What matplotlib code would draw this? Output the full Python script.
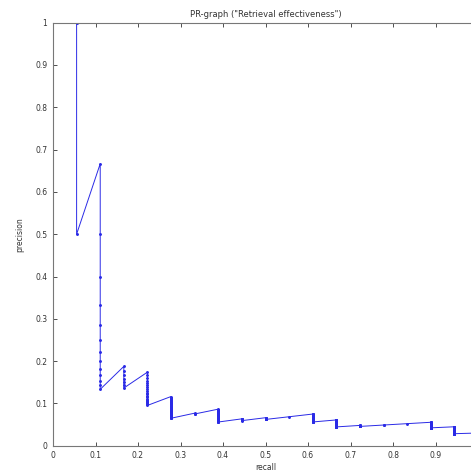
import matplotlib
matplotlib.use('Agg')
import matplotlib.pyplot as plt

# Ranks (in the retrieved list) of the 18 relevant documents
relevant_ranks = [1, 3, 16, 23, 43, 78, 81, 126, 136, 146, 147, 197,
                  271, 286, 288, 289, 380, 600]
n_relevant = 18

x_ticks = [0, 0.1, 0.2, 0.3, 0.4, 0.5, 0.6, 0.7, 0.8, 0.9, 1]
# the "1" label lies past the cropped right edge in the original
x_tick_labels = ['0', '0.1', '0.2', '0.3', '0.4', '0.5', '0.6', '0.7', '0.8', '0.9', '']
y_ticks = [0, 0.1, 0.2, 0.3, 0.4, 0.5, 0.6, 0.7, 0.8, 0.9, 1]
y_tick_labels = ['0', '0.1', '0.2', '0.3', '0.4', '0.5', '0.6', '0.7', '0.8', '0.9', '1']

# recall / precision after each retrieved document
recall = []
precision = []
found = 0
for rank in range(1, relevant_ranks[-1] + 1):
    if rank in relevant_ranks:
        found += 1
    recall.append(found / n_relevant)
    precision.append(found / rank)

fig = plt.figure(figsize=(4.71, 4.75), dpi=100)
# axes run past the right edge of the picture, like the cropped original
ax = fig.add_axes([53 / 471, 29.3 / 475, 425 / 471, 423 / 475])

ax.plot(recall, precision, color='#2a2ae6', linewidth=0.7,
        marker='.', markersize=2.2)

ax.set_xlim(0, 1)
ax.set_ylim(0, 1)
ax.set_xticks(x_ticks)
ax.set_xticklabels(x_tick_labels)
ax.set_yticks(y_ticks)
ax.set_yticklabels(y_tick_labels)
ax.tick_params(direction='in', length=3, width=0.6, labelsize=5.5,
               colors='#333333', top=True, right=True, pad=4)
for s in ax.spines.values():
    s.set_color('#777777')
    s.set_linewidth(0.8)

ax.set_title('PR-graph ("Retrieval effectiveness")', fontsize=6, color='#333333', pad=4)
ax.set_xlabel('recall', fontsize=5.5, color='#333333', labelpad=2)
ax.set_ylabel('precision', fontsize=5.5, color='#333333', labelpad=8)

fig.savefig('out.png', dpi=100)
